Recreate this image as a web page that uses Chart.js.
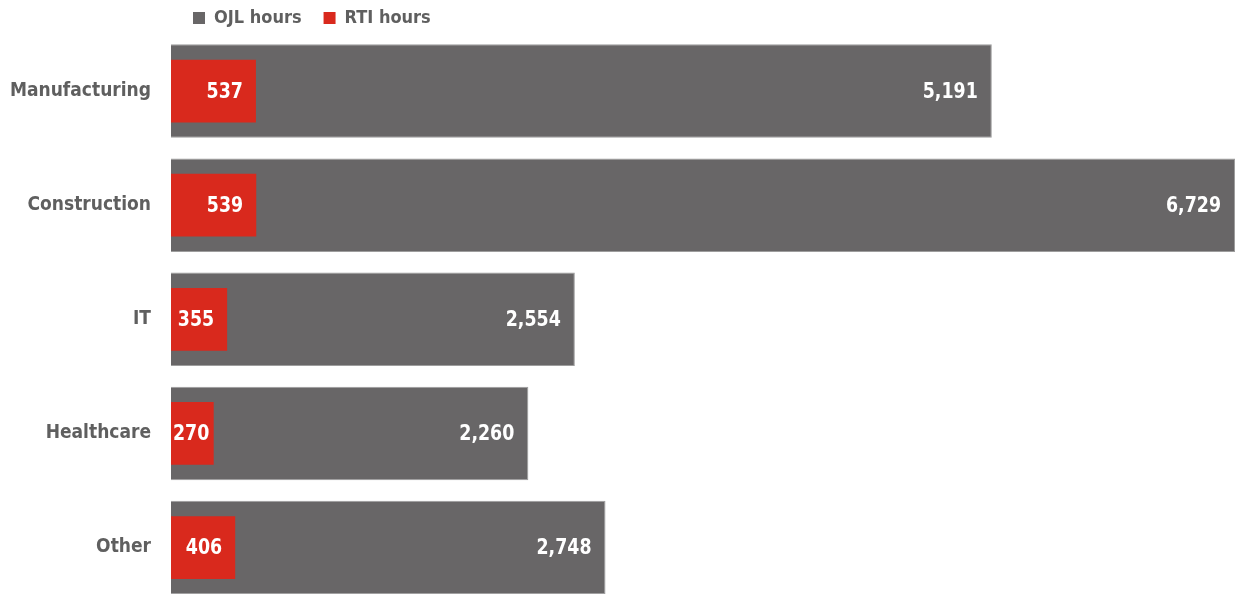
<!DOCTYPE html>
<html>
<head>
<meta charset="utf-8">
<script src="https://cdn.jsdelivr.net/npm/chart.js@4.4.1/dist/chart.umd.min.js"></script>
<style>
  html, body { margin: 0; padding: 0; background: #fff; overflow: hidden; }
  canvas { display: block; }
</style>
</head>
<body>
<canvas id="chart" width="1238" height="636"></canvas>
<script>
const categories = ["Manufacturing", "Construction", "IT", "Healthcare", "Other"];
const ojlHours = [5191, 6729, 2554, 2260, 2748];
const rtiHours = [537, 539, 355, 270, 406];

const FONT = "'Liberation Sans Narrow', 'DejaVu Sans Condensed', 'Roboto', sans-serif";
const GRAY = "#686667";
const RED = "#d9291d";
const TEXT = "#5f5f5f";

// white value labels inside the bars, squeezed a bit to look condensed
const valueLabels = {
  id: "valueLabels",
  afterDatasetsDraw(chart) {
    const ctx = chart.ctx;
    const sx = 0.88;
    ctx.save();
    ctx.font = "bold 22px " + FONT;
    ctx.fillStyle = "#ffffff";
    ctx.textAlign = "right";
    ctx.textBaseline = "middle";
    chart.data.datasets.forEach((ds, i) => {
      const meta = chart.getDatasetMeta(i);
      meta.data.forEach((bar, j) => {
        const txt = ds.data[j].toLocaleString("en-US");
        const w = ctx.measureText(txt).width * sx;
        let x = bar.x - (i === 0 ? 14 : 13);
        x = Math.max(x, bar.base + 2 + w);
        ctx.save();
        ctx.translate(x, bar.y + 1);
        ctx.scale(sx, 1);
        ctx.fillText(txt, 0, 0);
        ctx.restore();
      });
    });
    ctx.restore();
  }
};

new Chart(document.getElementById("chart"), {
  type: "bar",
  data: {
    labels: categories,
    datasets: [
      {
        label: "OJL hours",
        data: ojlHours,
        backgroundColor: GRAY,
        borderColor: "#9d9d9d",
        borderWidth: 1,
        categoryPercentage: 0.82,
        barPercentage: 1,
        order: 2
      },
      {
        label: "RTI hours",
        data: rtiHours,
        backgroundColor: RED,
        borderWidth: 0,
        categoryPercentage: 0.55,
        barPercentage: 1,
        order: 1
      }
    ]
  },
  options: {
    indexAxis: "y",
    responsive: false,
    animation: false,
    layout: { padding: { left: 0, right: 3, top: -13, bottom: 0 } },
    scales: {
      x: {
        display: false,
        min: 0,
        max: Math.max(...ojlHours)
      },
      y: {
        grid: { display: false, drawTicks: false },
        border: { display: false },
        ticks: {
          padding: 20,
          color: TEXT,
          font: { family: FONT, size: 19, weight: "bold" }
        },
        afterFit(scale) { scale.width = 171; }
      }
    },
    datasets: { bar: { grouped: false } },
    plugins: {
      legend: {
        position: "top",
        align: "start",
        fullSize: false,
        maxHeight: 47,
        labels: {
          boxWidth: 12,
          boxHeight: 12,
          padding: 22,
          color: TEXT,
          font: { family: FONT, size: 18, weight: "bold" },
          generateLabels(chart) {
            return chart.data.datasets.map((ds, i) => ({
              text: ds.label,
              fillStyle: ds.backgroundColor,
              strokeStyle: ds.backgroundColor,
              lineWidth: 0,
              fontColor: TEXT,
              datasetIndex: i
            }));
          }
        }
      },
      tooltip: { enabled: false }
    }
  },
  plugins: [valueLabels]
});
</script>
</body>
</html>
